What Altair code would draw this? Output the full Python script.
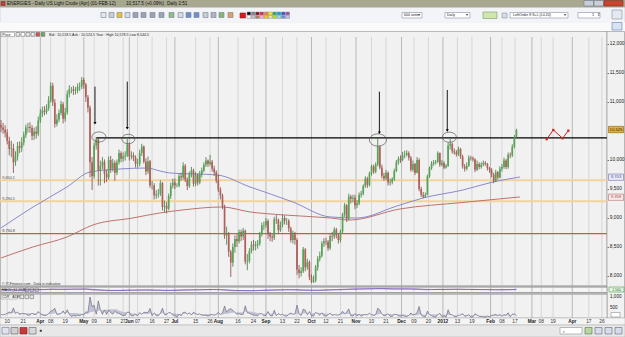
import altair as alt
import numpy as np
import pandas as pd

FONT = "Liberation Sans"

# ---------------- Daily US Light Crude (Apr-12), points: one value per trading day ----------------
first_open = 10600
close_mar = [10560, 10520, 10470, 10330, 10190, 10200, 9960, 10060, 10240, 10210, 10300, 10430, 10560, 10570, 10550, 10420, 10490, 10450, 10680]
high_mar = [10690, 10640, 10600, 10530, 10400, 10330, 10280, 10150, 10310, 10320, 10390, 10490, 10610, 10640, 10650, 10600, 10560, 10580, 10750]
low_mar = [10480, 10450, 10390, 10270, 10080, 10050, 9776, 9900, 9990, 10120, 10140, 10250, 10380, 10470, 10470, 10340, 10350, 10370, 10410]

close_apr = [10800, 10850, 10830, 10890, 11030, 11280, 10990, 10620, 10700, 10810, 10960, 10710, 10820, 11140, 11220, 11220, 11190, 11200, 11260, 11270, 11380]
high_apr = [10880, 10920, 10930, 10960, 11100, 11340, 11330, 11050, 10790, 10870, 11020, 11000, 10900, 11200, 11290, 11260, 11280, 11260, 11320, 11340, 11431]
low_apr = [10640, 10740, 10770, 10790, 10850, 10990, 10930, 10560, 10580, 10650, 10770, 10630, 10660, 10780, 11080, 11150, 11120, 11130, 11150, 11190, 11220]

close_may = [11300, 11080, 10900, 9960, 9720, 10250, 10360, 9820, 9900, 9970, 9760, 9700, 10000, 9850, 9950, 9780, 9960, 10120, 10020, 10060, 10080, 10270]
high_may = [11420, 11330, 11120, 10940, 10050, 10300, 10396, 10380, 9990, 10050, 10010, 9830, 10060, 10070, 10020, 9990, 10010, 10180, 10150, 10130, 10150, 10362]
low_may = [11230, 11000, 10820, 9700, 9483, 9680, 10180, 9560, 9560, 9840, 9600, 9620, 9660, 9780, 9800, 9640, 9740, 9920, 9960, 9970, 9990, 10050]

close_jun = [10060, 10080, 10040, 9930, 9940, 10120, 10230, 9970, 9800, 9980, 9560, 9560, 9390, 9410, 9420, 9600, 9190, 9210, 9160, 9380, 9560, 9610]
high_jun = [10300, 10150, 10130, 10080, 10020, 10180, 10280, 10250, 10030, 10060, 10000, 9640, 9600, 9480, 9500, 9650, 9620, 9300, 9280, 9420, 9610, 9680]
low_jun = [9990, 10010, 9980, 9870, 9870, 9890, 10070, 9940, 9740, 9760, 9520, 9490, 9320, 9330, 9350, 9380, 9130, 9100, 9080, 9130, 9330, 9510]

close_jul = [9560, 9560, 9720, 9700, 9900, 9660, 9550, 9760, 9820, 9590, 9740, 9610, 9760, 9820, 9920, 9990, 9930, 9970, 9850, 9790, 9650]
high_jul = [9680, 9600, 9760, 9780, 9960, 9930, 9700, 9800, 9880, 9850, 9790, 9770, 9810, 9870, 9960, 10050, 10010, 10087, 10000, 9900, 9820]
low_jul = [9500, 9530, 9530, 9640, 9660, 9620, 9480, 9520, 9700, 9540, 9550, 9560, 9580, 9700, 9790, 9880, 9880, 9900, 9800, 9730, 9600]

close_aug = [9490, 9390, 9200, 8700, 8720, 8420, 8230, 8500, 8640, 8600, 8760, 8680, 8780, 8250, 8260, 8430, 8540, 8520, 8540, 8560, 8720, 8870, 8880]
high_aug = [9750, 9530, 9420, 9230, 8850, 8760, 8450, 8560, 8700, 8720, 8800, 8800, 8830, 8800, 8380, 8480, 8600, 8620, 8600, 8620, 8760, 8920, 8940]
low_aug = [9450, 9320, 9150, 8640, 8540, 8330, 7983, 8160, 8400, 8500, 8560, 8600, 8620, 8200, 8100, 8220, 8390, 8440, 8440, 8470, 8520, 8680, 8790]

close_sep = [8950, 8720, 8680, 8660, 8980, 8970, 8790, 8880, 9000, 8950, 8950, 8820, 8620, 8720, 8620, 8110, 8050, 8080, 8460, 8150, 8240, 7980]
high_sep = [9000, 8980, 8760, 8720, 9020, 9050, 8990, 8940, 9060, 9040, 9000, 8980, 8850, 8780, 8760, 8650, 8190, 8150, 8500, 8480, 8300, 8270]
low_sep = [8830, 8640, 8600, 8590, 8620, 8900, 8740, 8760, 8840, 8890, 8880, 8760, 8580, 8560, 8540, 8020, 7960, 7990, 8050, 8080, 8110, 7930]

close_oct = [7900, 7920, 8150, 8300, 8350, 8560, 8600, 8590, 8480, 8690, 8680, 8800, 8700, 8620, 8770, 9060, 9220, 8990, 9370, 9330, 9350]
high_oct = [8030, 8010, 8190, 8340, 8420, 8600, 8650, 8660, 8620, 8720, 8760, 8840, 8830, 8740, 8800, 9090, 9260, 9240, 9420, 9400, 9400]
low_oct = [7880, 7880, 7890, 8090, 8250, 8320, 8500, 8530, 8430, 8450, 8600, 8640, 8650, 8560, 8580, 8740, 9020, 8930, 8960, 9250, 9270]

close_nov = [9220, 9250, 9400, 9420, 9550, 9680, 9570, 9770, 9890, 9800, 9920, 10230, 9870, 9730, 9680, 9780, 9610, 9620, 9670, 9810, 9960, 10020]
high_nov = [9400, 9310, 9440, 9470, 9580, 9720, 9710, 9800, 9920, 9920, 9960, 10380, 10250, 9920, 9780, 9830, 9800, 9680, 9700, 9850, 10000, 10060]
low_nov = [9150, 9170, 9220, 9350, 9390, 9520, 9520, 9540, 9730, 9760, 9770, 9890, 9840, 9680, 9640, 9650, 9560, 9560, 9580, 9640, 9790, 9920]

close_dec = [10000, 10080, 10090, 10120, 10040, 9830, 9930, 9780, 10000, 9500, 9400, 9370, 9400, 9720, 9860, 9940, 9960, 9970, 10120, 9920, 9950, 9870]
high_dec = [10080, 10140, 10160, 10170, 10150, 10070, 9990, 9950, 10050, 10030, 9540, 9450, 9440, 9750, 9890, 9980, 10000, 10000, 10150, 10130, 10000, 9980]
low_dec = [9950, 9980, 10030, 10060, 9990, 9800, 9800, 9740, 9770, 9460, 9360, 9340, 9350, 9390, 9690, 9830, 9900, 9920, 9950, 9880, 9890, 9840]

close_jan = [9900, 10250, 10280, 10150, 10130, 10100, 10190, 10060, 9890, 9850, 9900, 10040, 10030, 10010, 9830, 9930, 9880, 9920, 9950, 9930, 9860, 9830]
high_jan = [9930, 10300, 10380, 10300, 10200, 10170, 10230, 10210, 10090, 9930, 9960, 10080, 10070, 10060, 10030, 9990, 9960, 9960, 9990, 9980, 9950, 9880]
low_jan = [9850, 9880, 10180, 10110, 10090, 10060, 10070, 10020, 9850, 9800, 9820, 9880, 9990, 9970, 9790, 9810, 9840, 9850, 9890, 9900, 9820, 9780]

close_feb = [9750, 9640, 9790, 9700, 9850, 9880, 9990, 9880, 10090, 10080, 10230, 10390, 10518]
high_feb = [9860, 9780, 9830, 9810, 9890, 9930, 10040, 10020, 10130, 10130, 10270, 10430, 10540]
low_feb = [9700, 9600, 9620, 9660, 9680, 9800, 9850, 9840, 9850, 10030, 10050, 10200, 10380]

# moving averages (read as knots from the picture)
blue_day = [0, 15.5, 31.9, 43, 57.5, 70.5, 76.8, 81.6, 104.3, 120.3, 141, 159, 172, 191.3, 203.9, 223.2, 237.7, 250.7]
blue_val = [8828, 9190, 9535, 9793, 9845, 9862, 9811, 9776, 9742, 9535, 9276, 9018, 9000, 9207, 9345, 9483, 9621, 9707]
red_day = [0, 15.5, 31.9, 44.4, 63.8, 76.8, 87.9, 106.8, 120.3, 136.2, 159, 168.6, 192.8, 223.2, 250.7]
red_val = [8311, 8501, 8673, 8880, 9001, 9087, 9139, 9190, 9104, 9053, 9001, 8966, 9156, 9268, 9363]

# horizontal levels
level_val = [9650.1, 9290.1, 8730.8]
level_txt = ["9,650.1", "9,290.1", "8,730.8"]
level_col = ["#f2d39b", "#f2d39b", "#c35b5b"]
level_w = [2.0, 2.0, 1.4]
resist_val = 10380
resist_start = 46

# annotations
arrow_day = [45.4, 61.0, 182.8, 215.6]
arrow_top = [11265, 11351, 11178, 11207]
arrow_bot = [10633, 10547, 10471, 10506]
circle_day = [47.3, 61.5, 182.1, 216.6]
circle_val = [10397, 10362, 10345, 10392]
circle_size = [196, 169, 289, 196]
proj_day = [263.6, 266.8, 271.3, 274.1]
proj_val = [10358, 10518, 10375, 10506]

# axis ticks
price_ticks = [8000, 8500, 9000, 9500, 10000, 11000, 11500, 12000]
tick_pos = [3, 10.7, 19, 24, 31, 40, 45, 52, 59, 62, 66, 73, 80, 84, 94, 101, 105, 114.5, 122, 128, 136, 143,
            150, 157, 164, 171.5, 179, 186, 193.5, 199.5, 206.5, 213.5, 220.5, 227.5, 236.5, 242, 248.3,
            256.5, 261, 266.7, 276, 284, 290.3]
tick_text = ["10", "21", "Apr", "08", "19", "May", "09", "18", "27", "Jun", "07", "16", "27", "Jul", "15", "26",
             "Aug", "16", "24", "Sep", "13", "22", "Oct", "12", "21", "Nov", "10", "21", "Dec", "09", "20",
             "2012", "13", "19", "Feb", "08", "17", "Mar", "08", "19", "Apr", "17", "26"]
box_val = [10525, 9703, 9358]
box_txt = ["10,525", "9,703", "9,358"]
box_fill = ["#e5b62c", "#ececfa", "#faecec"]
box_stroke = ["#7a5a10", "#6b6bb8", "#b86b6b"]
box_tcol = ["#222222", "#4a4a9a", "#9a4a4a"]
cdr_ticks = [1000, 500]
cdr_tick_txt = ["1,000", "500"]

# ---------------- build tables ----------------
closes = close_mar + close_apr + close_may + close_jun + close_jul + close_aug + close_sep + close_oct + close_nov + close_dec + close_jan + close_feb
highs = high_mar + high_apr + high_may + high_jun + high_jul + high_aug + high_sep + high_oct + high_nov + high_dec + high_jan + high_feb
lows = low_mar + low_apr + low_may + low_jun + low_jul + low_aug + low_sep + low_oct + low_nov + low_dec + low_jan + low_feb
n = min(len(closes), len(highs), len(lows))
closes, highs, lows = closes[:n], highs[:n], lows[:n]
opens = [first_open] + closes[:-1]
ohlc = pd.DataFrame({"day": list(range(n)), "open": opens, "high": highs, "low": lows, "close": closes})
ohlc["cdr"] = ohlc["high"] - ohlc["low"]
ohlc["adr"] = ohlc["cdr"].rolling(14, min_periods=1).mean()
cs = pd.Series(closes, dtype=float)
macd = cs.ewm(span=12, adjust=False).mean() - cs.ewm(span=26, adjust=False).mean()
ohlc["macd"] = macd
ohlc["signal"] = macd.ewm(span=9, adjust=False).mean()

ticks = pd.DataFrame({"pos": tick_pos, "label": tick_text})
ticks["month"] = [not t.isdigit() or t == "2012" for t in tick_text]

x_scale = alt.Scale(domain=[0, 293], range=[1, 607.5], zero=False, nice=False)
p_scale = alt.Scale(domain=[7862, 12224], range=[284, 31], zero=False, nice=False)
cdr_scale = alt.Scale(domain=[0, 1000], range=[319, 297], zero=False, nice=False, clamp=True)
macd_scale = alt.Scale(domain=[-700, 700], range=[292, 287.3], zero=False, nice=False, clamp=True)


def X(f):
    return alt.X(f + ":Q", scale=x_scale, axis=None)


def P(f):
    return alt.Y(f + ":Q", scale=p_scale, axis=None)


def rect_layer(rows, sw=0.6):
    df = pd.DataFrame(rows, columns=["x", "x2", "y", "y2", "fill", "stroke"])
    return alt.Chart(df).mark_rect(strokeWidth=sw).encode(
        x=alt.X("x:Q", scale=None, axis=None), x2="x2:Q",
        y=alt.Y("y:Q", scale=None, axis=None), y2="y2:Q",
        fill=alt.Fill("fill:N", scale=None, legend=None),
        stroke=alt.Stroke("stroke:N", scale=None, legend=None))


def text_layer(rows, align="left", weight="normal"):
    df = pd.DataFrame(rows, columns=["x", "y", "t", "fs", "c"])
    return alt.Chart(df).mark_text(font=FONT, align=align, baseline="middle", fontWeight=weight).encode(
        x=alt.X("x:Q", scale=None, axis=None), y=alt.Y("y:Q", scale=None, axis=None),
        text="t:N", size=alt.Size("fs:Q", scale=None, legend=None),
        color=alt.Color("c:N", scale=None, legend=None))


# ---------------- chrome (window frame, toolbars, panels) ----------------
bg = rect_layer([
    (0, 625, 0, 7.5, "#a8a890", "#a8a890"),
    (0, 625, 7.5, 22.5, "#f2f4f8", "#c4c8d0"),
    (0, 625, 22.5, 31.5, "#fafafa", "#fafafa"),
    (0.5, 607, 31.5, 286, "#f1f1f1", "#8e8e8e"),
    (607, 624.5, 31.5, 318, "#f1f1f1", "#8e8e8e"),
    (0.5, 607, 287, 292.5, "#f5f5f5", "#8e8e8e"),
    (0.5, 607, 294, 318, "#f1f1f1", "#8e8e8e"),
    (0, 625, 318, 325, "#f4f4f4", "#c0c0c0"),
    (0, 625, 325, 337, "#e8e8e8", "#b4b4b4"),
])

tool_x = [101, 109, 117, 125, 133, 141, 150, 159, 169, 178, 186, 194, 203, 211, 219, 228]
tool_fill = ["#e4e8ee", "#c8cdd6", "#f0c030", "#d8dce4", "#9aa4b8", "#9aa4b8", "#9aa4b8", "#9aa4b8",
             "#8fbf7f", "#d8dce4", "#6f8fd0", "#6f8fd0", "#c8cdd6", "#b0b4bc", "#86b86f", "#e0a060"]
palette1 = ["#000000", "#7f7f7f", "#880015", "#ed1c24", "#ff7f27", "#fff200", "#22b14c", "#00a2e8", "#3f48cc", "#a349a4"]
palette2 = ["#ffffff", "#c3c3c3", "#b97a57", "#ffaec9", "#ffc90e", "#efe4b0", "#b5e61d", "#99d9ea", "#7092be", "#c8bfe7"]
fg_rows = [
    (0.5, 607, 286, 287, "#c8c8c8", "#8e8e8e"),
    (0.5, 607, 292.5, 294, "#c8c8c8", "#8e8e8e"),
    (1, 5, 1.5, 5.5, "#c04040", "#803030"),
    (584, 593.5, 0.5, 6, "#c9cfd8", "#70788a"),
    (594, 603.5, 0.5, 6, "#c9cfd8", "#70788a"),
    (604, 623, 0.5, 6, "#c8442c", "#7a3020"),
    (402, 422, 12.5, 18, "#ffffff", "#8890a0"),
    (445, 470, 12.5, 18, "#ffffff", "#8890a0"),
    (483, 497, 12, 18.5, "#cfe6b0", "#7a9a60"),
    (502, 507, 13, 18, "#d8dce4", "#8890a0"),
    (510, 568, 12.5, 18, "#ffffff", "#8890a0"),
    (578, 600, 12.5, 18, "#ffffff", "#8890a0"),
    (612, 622, 10, 19, "#e4e8f0", "#8890a0"),
    (612, 622, 22.5, 30, "#d8e4f4", "#6080b0"),
    (240, 245.5, 13, 18, "#d02020", "#a01818"),
    (1, 14.5, 32.3, 36.6, "#ffffff", "#909090"),
    (1, 23, 287.6, 292, "#ffffff", "#909090"),
    (1, 17.5, 294.8, 299, "#ffffff", "#909090"),
    (611, 620, 312.5, 317, "#ffffff", "#909090"),
    (609, 624, 287, 292, "#e6f4e6", "#4a9a4a"),
    (2, 9, 327.5, 334, "#dfe3ee", "#707a90"),
    (11, 18, 327.5, 334, "#d0d0d0", "#606060"),
    (20, 27, 327.5, 334, "#c83a3a", "#802020"),
    (29, 36, 327.5, 334, "#d8d8d8", "#606060"),
    (40, 41.5, 330, 331.5, "#404040", "#404040"),
    (560, 582, 327.5, 334, "#ffffff", "#909090"),
    (585, 592, 327.5, 334, "#b8d8a0", "#607050"),
    (595, 602, 327.5, 334, "#d8dce8", "#606878"),
    (605, 612, 327.5, 334, "#d8dce8", "#606878"),
    (615, 622, 327.5, 334, "#d8dce8", "#606878"),
]
for xx, ff in zip(tool_x, tool_fill):
    fg_rows.append((xx, xx + 5, 12.5, 17.5, ff, "#7a8090"))
for i, col in enumerate(palette1):
    fg_rows.append((247 + 4.3 * i, 250.8 + 4.3 * i, 12, 15, col, "#9098a8"))
for i, col in enumerate(palette2):
    fg_rows.append((247 + 4.3 * i, 250.8 + 4.3 * i, 15.4, 18.4, col, "#9098a8"))
for i, col in enumerate(["#e8e8e8", "#ffffff", "#e8e8e8", "#e8e8e8", "#d85050", "#60b060"]):
    fg_rows.append((16 + 5 * i, 19.8 + 5 * i, 32.5, 36.3, col, "#707070"))
for i in range(3):
    fg_rows.append((25 + 5 * i, 28.6 + 5 * i, 288, 291.6, "#e8e8e8", "#707070"))
    fg_rows.append((20 + 5 * i, 23.6 + 5 * i, 295, 298.6, "#e8e8e8", "#707070"))
fg = rect_layer(fg_rows)

chrome_text = text_layer([
    (7, 3.9, "ENERGIES - Daily US Light Crude (Apr) (01-FEB-12)", 4.6, "#111111"),
    (126, 3.9, "10,517.5 (+0.09%)", 4.6, "#111111"),
    (167, 3.9, "Daily 2:51", 4.6, "#111111"),
    (404, 15.3, "600 units", 3.6, "#222222"),
    (447, 15.3, "Daily", 3.6, "#222222"),
    (513, 15.3, "LeftOrder 8 S+L (L0.20)", 3.6, "#222222"),
    (592, 15.3, "1", 3.8, "#222222"),
    (418, 15.3, "▾", 4, "#333333"),
    (466, 15.3, "▾", 4, "#333333"),
    (564, 15.3, "▾", 4, "#333333"),
    (596.5, 15.3, "⇕", 4, "#333333"),
    (2.2, 34.5, "Price", 3.7, "#222222"),
    (49, 34.5, "Bid : 10,518.5  Ask : 10,524.5  Year : High 10,578.5  Low 8,544.5", 3.6, "#222222"),
    (2, 283.6, "© IT-Finance.com . Data is indicative", 3.6, "#333333"),
    (2, 289.8, "MACD (12 26 9)", 3.3, "#222222"),
    (2, 296.9, "CDR : ADR", 3.5, "#222222"),
    (563, 330.8, "‹", 5, "#333333"),
])
macd_box_text = text_layer([(616.5, 289.6, "1.560", 3.5, "#2a7a2a")], align="center")

# ---------------- data layers ----------------
grid = alt.Chart(ticks).mark_rule(strokeWidth=0.8).encode(
    x=X("pos"), y=alt.value(37), y2=alt.value(318),
    color=alt.condition("datum.month", alt.value("#a9a9a9"), alt.value("#cfcfcf")))

levels = alt.Chart(pd.DataFrame({"v": level_val, "c": level_col, "w": level_w, "s": [-1] * 3, "e": [292.7] * 3})).mark_rule().encode(
    x=X("s"), x2="e:Q", y=P("v"),
    color=alt.Color("c:N", scale=None, legend=None),
    strokeWidth=alt.StrokeWidth("w:Q", scale=None, legend=None))
level_labels = alt.Chart(pd.DataFrame({"v": level_val, "t": level_txt, "s": [0.6] * 3})).mark_text(
    font=FONT, fontSize=3.8, align="left", baseline="middle", dy=-2.2, color="#444444").encode(
    x=X("s"), y=P("v"), text="t:N")
resist = alt.Chart(pd.DataFrame({"v": [resist_val], "s": [resist_start], "e": [292.7]})).mark_rule(
    color="#000000", strokeWidth=1.2).encode(x=X("s"), x2="e:Q", y=P("v"))

ma_blue = alt.Chart(pd.DataFrame({"d": blue_day, "v": blue_val})).mark_line(
    color="#7e7ec8", strokeWidth=0.9, interpolate="monotone").encode(x=X("d"), y=P("v"))
ma_red = alt.Chart(pd.DataFrame({"d": red_day, "v": red_val})).mark_line(
    color="#b8655c", strokeWidth=0.9, interpolate="monotone").encode(x=X("d"), y=P("v"))

up = "datum.close >= datum.open"
wicks = alt.Chart(ohlc).mark_rule(strokeWidth=0.8).encode(
    x=X("day"),
    y=alt.Y("low:Q", scale=p_scale, title=None,
            axis=alt.Axis(orient="right", offset=-18, values=price_ticks, format=",d", labelFont=FONT,
                          labelFontSize=4.8, labelColor="#222222", tickSize=1.5, tickColor="#777777",
                          domain=False, grid=False, labelPadding=0.8, labelOverlap=False, title=None,
                          zindex=2)),
    y2="high:Q",
    color=alt.condition(up, alt.value("#3c7a3c"), alt.value("#854642")))
bodies = alt.Chart(ohlc).mark_rule(strokeWidth=1.7).encode(
    x=X("day"), y=P("open"), y2="close:Q",
    color=alt.condition(up, alt.value("#56a456"), alt.value("#b0605a")))

arrows_df = pd.DataFrame({"d": arrow_day, "t": arrow_top, "b": arrow_bot})
arrows = alt.Chart(arrows_df).mark_rule(color="#000000", strokeWidth=0.9).encode(x=X("d"), y=P("t"), y2="b:Q")
heads = alt.Chart(arrows_df).mark_point(shape="triangle-down", filled=True, size=9, color="#000000", opacity=1).encode(
    x=X("d"), y=P("b"))
ellipse = "M -1 0 A 1 0.72 0 1 1 1 0 A 1 0.72 0 1 1 -1 0 Z"
circles = alt.Chart(pd.DataFrame({"d": circle_day, "v": circle_val, "sz": circle_size})).mark_point(
    shape=ellipse, filled=False, color="#555555", strokeWidth=0.7, opacity=1).encode(
    x=X("d"), y=P("v"), size=alt.Size("sz:Q", scale=None, legend=None))
proj_df = pd.DataFrame({"d": proj_day, "v": proj_val})
proj_line = alt.Chart(proj_df).mark_line(color="#d02020", strokeWidth=1).encode(x=X("d"), y=P("v"))
proj_pts = alt.Chart(proj_df).mark_point(shape="square", filled=True, size=5, color="#d02020", opacity=1).encode(
    x=X("d"), y=P("v"))

macd_line = alt.Chart(ohlc).mark_line(color="#b050b0", strokeWidth=0.7).encode(
    x=X("day"), y=alt.Y("macd:Q", scale=macd_scale, axis=None))
sig_line = alt.Chart(ohlc).mark_line(color="#5a5ac0", strokeWidth=0.7).encode(
    x=X("day"), y=alt.Y("signal:Q", scale=macd_scale, axis=None))

cdr_area = alt.Chart(ohlc).mark_area(color="#bcbcd2", opacity=0.9).encode(
    x=X("day"), y=alt.Y("cdr:Q", scale=cdr_scale, axis=None), y2="adr:Q")
cdr_line = alt.Chart(ohlc).mark_line(color="#5e5e74", strokeWidth=0.6).encode(
    x=X("day"), y=alt.Y("cdr:Q", scale=cdr_scale, axis=None))
cdr_labels = alt.Chart(pd.DataFrame({"v": cdr_ticks, "t": cdr_tick_txt})).mark_text(
    font=FONT, fontSize=4.6, align="left", baseline="middle", color="#222222").encode(
    x=alt.value(610), y=alt.Y("v:Q", scale=cdr_scale, axis=None), text="t:N")

xlab_norm = alt.Chart(ticks[~ticks["month"]]).mark_text(
    font=FONT, fontSize=4.8, align="center", baseline="middle", color="#333333").encode(
    x=X("pos"), y=alt.value(321.6), text="label:N")
xlab_bold = alt.Chart(ticks[ticks["month"]]).mark_text(
    font=FONT, fontSize=4.8, align="center", baseline="middle", color="#222222", fontWeight="bold").encode(
    x=X("pos"), y=alt.value(321.6), text="label:N")

boxes_df = pd.DataFrame({"v": box_val, "t": box_txt, "f": box_fill, "s": box_stroke, "tc": box_tcol})
box_shape = "M -1 -0.42 L 1 -0.42 L 1 0.42 L -1 0.42 Z"
boxes = alt.Chart(boxes_df).mark_point(shape=box_shape, filled=True, size=225, strokeWidth=0.6, opacity=1).encode(
    x=alt.value(616), y=P("v"),
    fill=alt.Fill("f:N", scale=None, legend=None),
    stroke=alt.Stroke("s:N", scale=None, legend=None))
box_text = alt.Chart(boxes_df).mark_text(font=FONT, fontSize=4.2, align="center", baseline="middle").encode(
    x=alt.value(616), y=P("v"), text="t:N", color=alt.Color("tc:N", scale=None, legend=None))

layers = [bg, grid, levels, resist, ma_blue, ma_red, wicks, bodies, arrows, heads, circles,
          proj_line, proj_pts, level_labels, fg, macd_line, sig_line, cdr_area, cdr_line, cdr_labels,
          chrome_text, macd_box_text, xlab_norm, xlab_bold, boxes, box_text]

chart = alt.layer(*layers).resolve_scale(
    x="independent", y="independent", color="independent", size="independent",
    fill="independent", stroke="independent", strokeWidth="independent"
).properties(
    width=625, height=337, autosize=alt.AutoSizeParams(type="none"), padding=0, background="#f1f1f1"
).configure_view(stroke=None)

chart.save("out.html", embed_options={"renderer": "svg", "actions": False})
